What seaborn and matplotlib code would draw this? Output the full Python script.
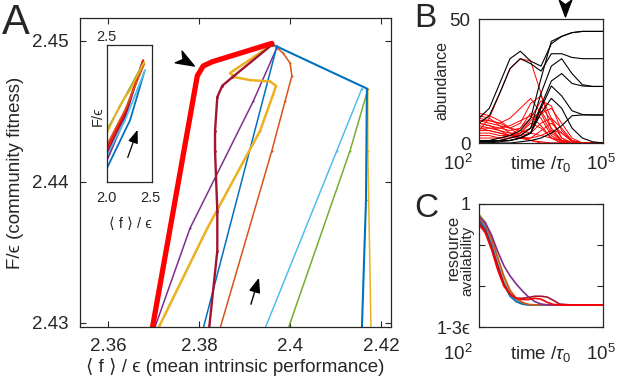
import numpy as np
import pandas as pd
import seaborn as sns
import matplotlib.pyplot as plt
from matplotlib.markers import MarkerStyle
from matplotlib.path import Path

# colours (MATLAB default order + red)
c_blue, c_orange, c_yellow, c_purple = '#0072BD', '#D95319', '#EDB120', '#7E2F8E'
c_green, c_lblue, c_dred, c_red = '#77AC30', '#4DBEEE', '#A2142F', '#FF0000'

# Panel A trajectories
red_x = [2.3697, 2.3796, 2.3809, 2.3829, 2.3960]
red_y = [2.4296, 2.4475, 2.4482, 2.4485, 2.4498]
purple_x = [2.3703, 2.3780, 2.3919, 2.3971]
purple_y = [2.4297, 2.4367, 2.4457, 2.4495]
dred_x = [2.3822, 2.3840, 2.3840, 2.3835, 2.3835, 2.3840, 2.3851, 2.3873, 2.3960]
dred_y = [2.4296, 2.4351, 2.4379, 2.4422, 2.4436, 2.4460, 2.4468, 2.4474, 2.4497]
yel1_x = [2.3710, 2.3818, 2.3934, 2.3963, 2.3969, 2.3956, 2.3912, 2.3879, 2.3868, 2.3877, 2.3960]
yel1_y = [2.4296, 2.4367, 2.4436, 2.4462, 2.4468, 2.4471, 2.4472, 2.4474, 2.4477, 2.4479, 2.4497]
blue1_x = [2.3809, 2.3971]
blue1_y = [2.4296, 2.4496]
orange_x = [2.3846, 2.3960, 2.3989, 2.4004, 2.4000, 2.3985, 2.3967]
orange_y = [2.4296, 2.4422, 2.4457, 2.4475, 2.4484, 2.4491, 2.4496]
lblue_x = [2.3945, 2.4103, 2.4158]
lblue_y = [2.4296, 2.4422, 2.4466]
green_x = [2.3996, 2.4132, 2.4169]
green_y = [2.4296, 2.4422, 2.4463]
yel2_x = [2.4178, 2.4171, 2.4171]
yel2_y = [2.4296, 2.4422, 2.4466]
blue2_x = [2.4158, 2.4167, 2.4169, 2.3963]
blue2_y = [2.4296, 2.4387, 2.4466, 2.4497]

# inset trajectories
ins_x = {
    c_yellow: [2.0, 2.151, 2.267, 2.430],
    c_green: [2.0, 2.128, 2.419],
    c_lblue: [2.0, 2.209, 2.442],
    c_red: [2.0, 2.209, 2.419],
    c_purple: [2.0, 2.209, 2.407],
    c_blue: [2.0, 2.267, 2.430],
    c_orange: [2.0, 2.209, 2.430],
    c_dred: [2.0, 2.209, 2.419],
}
ins_y = {
    c_yellow: [2.179, 2.281, 2.336, 2.438],
    c_green: [2.190, 2.263, 2.434],
    c_lblue: [2.099, 2.226, 2.409],
    c_red: [2.124, 2.255, 2.445],
    c_purple: [2.080, 2.234, 2.438],
    c_blue: [2.051, 2.226, 2.401],
    c_orange: [2.135, 2.263, 2.431],
    c_dred: [2.109, 2.245, 2.438],
}

# Panel B: abundances on a log10-time grid
b_logt = [2.0, 2.25, 2.5, 2.75, 3.0, 3.25, 3.5, 3.75, 4.0, 4.25, 4.5, 4.75, 5.0]
b_black = [
    [10, 14, 24, 34, 37, 33, 31, 40, 43, 44.5, 45, 45, 45],
    [8, 11, 20, 30, 34, 32, 29, 36, 36, 34.5, 34, 34, 34],
    [1, 1, 2, 3, 5, 10, 26, 41, 43, 44.5, 45, 45, 45],
    [0.5, 1, 1, 2, 3, 6, 20, 31, 34, 28, 23.5, 22.8, 22.8],
    [0.5, 0.5, 1, 1, 2, 4, 15, 25, 28, 24, 23, 22.8, 22.8],
    [0.5, 0.5, 1, 1, 2, 4, 14, 23, 19, 13, 11.5, 11.3, 11.3],
    [0, 0, 0, 0, 0.5, 1, 2, 4, 7, 11, 11.3, 11.3, 11.3],
    [0, 0, 0.5, 1, 2, 4, 12, 18, 14, 6, 2, 0.5, 0],
]
b_red = [
    [5, 10, 20, 30, 34, 33, 20, 5, 1, 0, 0, 0, 0],
    [10, 9, 8, 10, 14, 18, 12, 4, 1, 0, 0, 0, 0],
    [9, 8, 7, 6, 8, 16, 19, 10, 2, 0, 0, 0, 0],
    [8, 7, 6, 5, 6, 10, 17, 15, 5, 1, 0, 0, 0],
    [7, 6, 5, 4, 4, 6, 12, 14, 8, 2, 0, 0, 0],
    [6, 5, 4, 3, 3, 4, 8, 10, 6, 1, 0, 0, 0],
    [11, 10, 7, 4, 2, 1, 0.5, 0, 0, 0, 0, 0, 0],
    [4, 4, 3, 3, 4, 9, 13, 6, 1, 0, 0, 0, 0],
    [3, 3, 2, 2, 3, 6, 15, 9, 2, 0, 0, 0, 0],
    [12, 11, 9, 6, 3, 1, 0, 0, 0, 0, 0, 0, 0],
    [2, 2, 2, 3, 6, 12, 10, 3, 0.5, 0, 0, 0, 0],
    [5, 5, 4, 3, 2, 2, 5, 8, 4, 0.5, 0, 0, 0],
    [1, 1, 1, 2, 4, 8, 6, 2, 0, 0, 0, 0, 0],
    [8, 7, 5, 3, 2, 2, 3, 5, 4, 1, 0, 0, 0],
    [6, 6, 6, 7, 9, 11, 7, 2, 0, 0, 0, 0, 0],
    [9, 9, 8, 6, 5, 4, 3, 2, 1, 0, 0, 0, 0],
]

# Panel C: resource availability (in units of epsilon below 1)
c_logt = [2.0, 2.15, 2.3, 2.45, 2.6, 2.75, 2.9, 3.05, 3.2, 3.35, 3.5, 3.65, 3.8, 3.95, 4.2, 5.0]
c_curves = {
    c_green: [-0.25, -0.45, -0.8, -1.3, -1.8, -2.15, -2.35, -2.43, -2.46, -2.46, -2.46, -2.46, -2.46, -2.46, -2.46, -2.46],
    c_yellow: [-0.3, -0.5, -0.85, -1.35, -1.85, -2.2, -2.38, -2.44, -2.46, -2.46, -2.46, -2.46, -2.46, -2.46, -2.46, -2.46],
    c_lblue: [-0.35, -0.55, -0.95, -1.45, -1.9, -2.2, -2.37, -2.44, -2.46, -2.46, -2.46, -2.46, -2.46, -2.46, -2.46, -2.46],
    c_blue: [-0.38, -0.6, -1.0, -1.5, -1.95, -2.25, -2.38, -2.44, -2.46, -2.46, -2.46, -2.46, -2.46, -2.46, -2.46, -2.46],
    c_orange: [-0.35, -0.5, -0.85, -1.3, -1.75, -2.1, -2.3, -2.4, -2.45, -2.46, -2.46, -2.46, -2.46, -2.46, -2.46, -2.46],
    c_purple: [-0.3, -0.45, -0.75, -1.15, -1.5, -1.75, -1.95, -2.12, -2.27, -2.38, -2.44, -2.46, -2.46, -2.46, -2.46, -2.46],
    c_dred: [-0.45, -0.65, -1.05, -1.5, -1.95, -2.2, -2.3, -2.3, -2.28, -2.25, -2.25, -2.27, -2.35, -2.44, -2.46, -2.46],
    c_red: [-0.5, -0.7, -1.1, -1.6, -2.0, -2.2, -2.3, -2.33, -2.33, -2.3, -2.32, -2.4, -2.45, -2.46, -2.46, -2.46],
}

sns.set_style('ticks')
plt.rcParams['font.family'] = ['Liberation Sans', 'DejaVu Sans']
plt.rcParams['mathtext.fontset'] = 'custom'
plt.rcParams['mathtext.rm'] = 'Liberation Sans'
plt.rcParams['mathtext.it'] = 'Liberation Sans:italic'
plt.rcParams['axes.edgecolor'] = '#262626'
plt.rcParams['axes.linewidth'] = 0.9

W, H = 617, 386
fig = plt.figure(figsize=(6.17, 3.86), dpi=100)


def box(l, t, r, b):
    return [l / W, 1 - b / H, (r - l) / W, (b - t) / H]


def chevron(ax, x, y, angle, size, transform):
    verts = [(1, 0), (-1, 0.75), (-0.45, 0), (-1, -0.75), (1, 0)]
    codes = [Path.MOVETO, Path.LINETO, Path.LINETO, Path.LINETO, Path.CLOSEPOLY]
    m = MarkerStyle(Path(verts, codes)).rotated(deg=angle)
    ax.plot([x], [y], marker=m, markersize=size, color='black', transform=transform,
            clip_on=False, linestyle='none')


def trace(ax, xs, ys, color, lw=1.1, marker='.', ms=3):
    sns.lineplot(x=xs, y=ys, ax=ax, color=color, linewidth=lw, sort=False,
                 estimator=None, marker=marker, markersize=ms, markeredgewidth=0)


# ---------------- Panel A ----------------
axA = fig.add_axes(box(80, 18, 391, 327))
trace(axA, lblue_x, lblue_y, c_lblue)
trace(axA, green_x, green_y, c_green)
trace(axA, yel2_x, yel2_y, c_yellow)
trace(axA, blue2_x, blue2_y, c_blue, lw=1.5)
trace(axA, purple_x, purple_y, c_purple)
trace(axA, orange_x, orange_y, c_orange)
trace(axA, blue1_x, blue1_y, c_blue)
trace(axA, yel1_x, yel1_y, c_yellow, lw=1.8)
trace(axA, dred_x, dred_y, c_dred, lw=1.7, ms=4)
trace(axA, red_x, red_y, c_red, lw=3.8, marker=None)
axA.set_xlim(2.3538, 2.4222)
axA.set_ylim(2.4297, 2.4516)
axA.set_xticks([2.36, 2.38, 2.40, 2.42])
axA.set_xticklabels(['2.36', '2.38', '2.4', '2.42'])
axA.set_yticks([2.43, 2.44, 2.45])
axA.set_yticklabels(['2.43', '2.44', '2.45'])
axA.tick_params(direction='in', top=True, right=True, labelsize=13.5, length=4, pad=8,
                color='#262626')
axA.set_xlabel('⟨ f ⟩ / ϵ (mean intrinsic performance)', fontsize=13.5, labelpad=2)
axA.set_ylabel('F/ϵ (community fitness)', fontsize=13.5, labelpad=6)
chevron(axA, 0.34, 0.862, -30, 13, axA.transAxes)
axA.annotate('', xy=(0.578, 0.168), xytext=(0.547, 0.065), xycoords='axes fraction',
             arrowprops=dict(arrowstyle='-|>,head_length=0.9,head_width=0.35',
                             color='black', lw=1))

# inset
axI = fig.add_axes(box(107, 45, 152, 182))
for col in [c_blue, c_purple, c_lblue, c_dred, c_red, c_orange, c_green, c_yellow]:
    sns.lineplot(x=ins_x[col], y=ins_y[col], ax=axI, color=col, linewidth=1.3,
                 sort=False, estimator=None)
axI.set_xlim(2.0, 2.52)
axI.set_ylim(2.0, 2.5)
axI.set_xticks([])
axI.set_yticks([])
axI.annotate('', xy=(0.70, 0.40), xytext=(0.44, 0.16), xycoords='axes fraction',
             arrowprops=dict(arrowstyle='-|>,head_length=0.8,head_width=0.3',
                             color='black', lw=0.9))
fig.text(106 / W, 1 - 37 / H, '2.5', fontsize=10.5, ha='center', va='center')
fig.text(106 / W, 1 - 198 / H, '2.0', fontsize=10.5, ha='center', va='center')
fig.text(150 / W, 1 - 198 / H, '2.5', fontsize=10.5, ha='center', va='center')
fig.text(98 / W, 1 - 116 / H, 'F/ϵ', fontsize=10.5, ha='center', va='center', rotation=90)
fig.text(130 / W, 1 - 224 / H, '⟨ f ⟩ / ϵ', fontsize=10.5, ha='center', va='center')

# ---------------- Panel B ----------------
axB = fig.add_axes(box(479, 19, 603, 143))
tB = [10 ** v for v in b_logt]
for ys in b_red:
    sns.lineplot(x=tB, y=ys, ax=axB, color=c_red, linewidth=0.7, estimator=None)
for ys in b_black:
    sns.lineplot(x=tB, y=ys, ax=axB, color='black', linewidth=0.8, estimator=None)
axB.set_xscale('log')
axB.set_xlim(1e2, 1e5)
axB.set_ylim(0, 50)
axB.set_xticks([])
axB.minorticks_off()
axB.set_yticks([0, 50])
axB.set_yticklabels(['0', '50'])
axB.tick_params(axis='y', direction='in', length=0, labelsize=13.5, pad=6)
axB.set_ylabel('abundance', fontsize=11.5, labelpad=0)
chevron(axB, 565 / W, 1 - 8 / H, -90, 12, fig.transFigure)

# ---------------- Panel C ----------------
axC = fig.add_axes(box(479, 204, 603, 327))
tC = [10 ** v for v in c_logt]
for col, ys in c_curves.items():
    sns.lineplot(x=tC, y=ys, ax=axC, color=col, linewidth=1.2, estimator=None)
axC.set_xscale('log')
axC.set_xlim(1e2, 1e5)
axC.set_ylim(-3, 0)
axC.set_xticks([])
axC.minorticks_off()
axC.set_yticks([-3, -2, -1, 0])
axC.set_yticklabels(['1-3ϵ', '', '', '1'])
axC.tick_params(axis='y', direction='in', length=4, right=True, labelsize=13, pad=6)
fig.text(453 / W, 1 - 247 / H, 'resource', fontsize=12, rotation=90, ha='center', va='center')
fig.text(467 / W, 1 - 261 / H, 'availability', fontsize=11, rotation=90, ha='center', va='center')

# time axis labels for B and C
for yc in (164, 354):
    fig.text(458 / W, 1 - yc / H, '$10^2$', fontsize=13.5, ha='center', va='center')
    fig.text(601 / W, 1 - yc / H, '$10^5$', fontsize=13.5, ha='center', va='center')
    fig.text(541 / W, 1 - yc / H, 'time /$\\tau_0$', fontsize=13.5, ha='center', va='center')

# panel letters
fig.text(2 / W, 1 - 34 / H, 'A', fontsize=30)
fig.text(414 / W, 1 - 27 / H, 'B', fontsize=24)
fig.text(414 / W, 1 - 217 / H, 'C', fontsize=24)

fig.savefig('out.png', dpi=100)
